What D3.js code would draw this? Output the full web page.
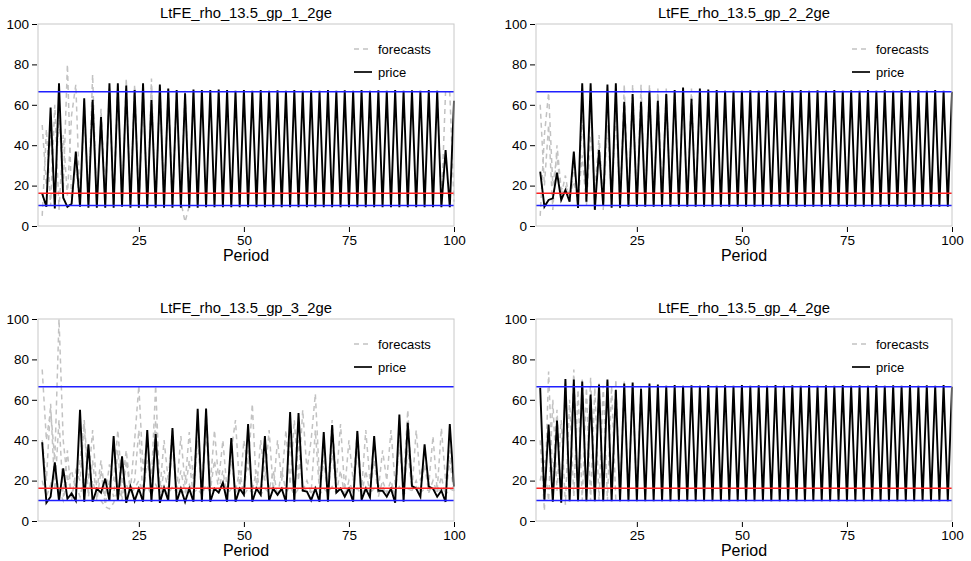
<!DOCTYPE html>
<html>
<head>
<meta charset="utf-8">
<script src="https://cdn.jsdelivr.net/npm/d3@7"></script>
<style>
  body { margin: 0; background: #fff; }
  text { font-family: "Liberation Sans", Arial, Helvetica, sans-serif; }
</style>
</head>
<body>
<div class="chart"></div>
<script>
// ---- data ----
var titles = ["LtFE_rho_13.5_gp_1_2ge", "LtFE_rho_13.5_gp_2_2ge",
              "LtFE_rho_13.5_gp_3_2ge", "LtFE_rho_13.5_gp_4_2ge"];
var xTicks = [25, 50, 75, 100];
var yTicks = [0, 20, 40, 60, 80, 100];
var upperBound = 66.5, lowerBound = 10.2, fundamental = 16.2;

// price, periods 2..100
var price1 = [16, 9.6, 58.7, 8.7, 70.6, 14, 9.5, 11, 36.8, 9.6,
  63.2, 9, 62.5, 9, 54, 9, 70.6, 9, 70.6, 9.5,
  69.5, 9, 67.3, 9, 70.6, 9, 62.4, 9, 70, 9,
  68, 9, 67.3, 9, 65.7, 9, 67.6, 9, 67.3, 9.3,
  67.3, 9.3, 67.5, 9.3, 67.3, 9.3, 67, 9.3, 67.3, 9.3,
  67, 9.3, 67.3, 9.3, 67, 9.3, 67.2, 9.3, 67, 9.3,
  67.3, 9.3, 67, 9.3, 67.2, 9.3, 67, 9.3, 67.3, 9.3,
  67, 9.3, 67.2, 9.3, 67, 9.3, 67.3, 9.3, 67, 9.3,
  67.2, 9.3, 67, 9.3, 67.3, 9.3, 67, 9.3, 67.2, 9.3,
  67, 9.3, 67.3, 9.3, 67, 9.3, 37.6, 9.3, 62];

var price2 = [26.9, 9.6, 12.9, 13.7, 26.4, 12.9, 17.8, 12, 36.8, 8.9,
  70.6, 12, 70.6, 8, 37.6, 10, 70, 9, 70.6, 9,
  61.5, 9.5, 65.3, 9.5, 61.5, 9.5, 67, 9.5, 62, 9.5,
  65.3, 9.5, 67.3, 9.5, 68.6, 9.5, 63, 9.5, 68, 9.5,
  67.6, 9.5, 67.3, 9.5, 67, 9.5, 67, 9.5, 67, 9.5,
  67.2, 9.5, 67, 9.5, 67.3, 9.5, 67, 9.5, 67.2, 9.5,
  67, 9.5, 67.3, 9.5, 67, 9.5, 67.2, 9.5, 67, 9.5,
  67.3, 9.5, 67, 9.5, 67.2, 9.5, 67, 9.5, 67.3, 9.5,
  67, 9.5, 67.2, 9.5, 67, 9.5, 67.3, 9.5, 67, 9.5,
  67.2, 9.5, 67, 9.5, 67.3, 9.5, 67, 9.5, 66.5];

var price3 = [39, 9, 12, 29, 10, 26, 11, 13.6, 10, 55,
  9.5, 38, 9.5, 16, 14, 21, 10, 42, 10, 32,
  9, 17, 10, 16, 9.5, 45, 9.5, 43, 9, 16.5,
  10, 46, 9.5, 16, 9.5, 16, 9.5, 55.5, 9.5, 55.7,
  9.5, 16, 14, 19, 9.5, 41, 9.5, 16, 13, 48,
  9.5, 16, 13, 42, 10, 16, 13, 16, 9.5, 54,
  9.5, 53.5, 15, 14.6, 10.3, 16, 9.5, 44, 9.5, 47.5,
  14, 16, 12, 16, 9.5, 44.5, 10.5, 16, 11.7, 42,
  15, 15, 12, 16, 9, 52.7, 9.5, 48.6, 17.4, 16,
  12, 38, 17, 16, 12, 15, 9.5, 48, 17];

var price4 = [65.9, 10.5, 47.8, 9.5, 49.7, 9, 70.3, 9.8, 70, 9.8,
  69, 9.8, 62.6, 9.8, 67.5, 9.8, 70, 9.8, 65, 9.8,
  68, 9.8, 68.6, 9.8, 65.4, 9.8, 68, 9.8, 67.6, 9.8,
  67, 9.8, 67.3, 9.8, 67, 9.8, 67.2, 9.8, 67, 9.8,
  67.3, 9.8, 67, 9.8, 67.2, 9.8, 67, 9.8, 67.3, 9.8,
  67, 9.8, 67.2, 9.8, 67, 9.8, 67.3, 9.8, 67, 9.8,
  67.2, 9.8, 67, 9.8, 67.3, 9.8, 67, 9.8, 67.2, 9.8,
  67, 9.8, 67.3, 9.8, 67, 9.8, 67.2, 9.8, 67, 9.8,
  67.3, 9.8, 67, 9.8, 67.2, 9.8, 67, 9.8, 67.3, 9.8,
  67, 9.8, 67.2, 9.8, 67, 9.8, 67.3, 9.8, 66.5];

// forecasts (start at period 2 unless noted)
var fc1a = [50, 20, 45, 12, 55, 18, 80, 12, 30, 10,
  62, 12, 75, 10, 55, 12, 68, 10, 70, 10,
  73, 12, 68, 10, 70, 12, 73, 10, 69, 12,
  68, 10, 67, 12, 67, 10, 67];
var fc1b = [5, 48, 10, 60, 8, 45, 15, 55, 70, 10,
  55, 12, 62, 10, 58, 12, 68, 10, 69, 10,
  66, 12, 70, 10, 66, 12, 69, 10, 67, 12,
  66, 10, 66, 12, 2, 10, 66];
var fc1tail = [67, 10, 67, 66, 12]; // periods 96..100

var fc2a = [5, 45, 66, 20, 35, 15, 25, 12, 30, 10,
  55, 15, 60, 10, 45, 12, 66, 10, 68, 8,
  70, 10, 70, 10, 70, 12, 70, 10, 68, 12,
  68, 10, 66, 12, 67, 10, 68, 10, 66];
var fc2b = [60, 20, 50, 8, 40, 18, 20, 15, 22, 12,
  35, 10, 45, 20, 40, 8, 50, 12, 55, 10,
  60, 12, 62, 10, 65, 10, 66, 10, 65, 12,
  66, 10];

var fc3a = [75, 40, 55, 30, 100, 40, 20, 25, 15, 30,
  50, 20, 45, 15, 30, 12, 28, 20, 45, 18,
  35, 15, 40, 67, 25, 40, 20, 67, 15, 40,
  20, 45, 15, 42, 18, 44, 20, 50, 15, 55,
  18, 45, 20, 40, 15, 35, 50, 15, 40, 25,
  58, 15, 40, 20, 45, 15, 40, 20, 45, 18,
  50, 20, 55, 25, 40, 63, 20, 35, 15, 50,
  20, 48, 15, 40, 20, 45, 15, 45, 20, 40,
  15, 35, 20, 45, 18, 40, 20, 55, 15, 45,
  20, 35, 18, 42, 15, 46, 20, 35, 18];
var fc3b = [40, 20, 58, 15, 50, 12, 35, 10, 25, 20,
  48, 12, 30, 10, 25, 8, 20, 12, 35, 10,
  30, 15, 20, 45, 12, 30, 15, 50, 12, 25,
  15, 38, 12, 25, 14, 30, 12, 40, 12, 45,
  15, 30, 15, 25, 12, 30, 15, 25, 12, 35,
  15, 25, 12, 30, 15, 25, 12, 25, 15, 40,
  12, 40, 15, 20, 14, 45, 14, 30, 12, 35,
  14, 25, 12, 20, 14, 35, 12, 25, 14, 30,
  12, 20, 14, 20, 12, 38, 14, 35, 15, 20,
  14, 28, 14, 20, 14, 22, 12, 30, 14];
var fc3c = [20, 12, 18, 25, 15, 10, 22, 14, 18, 12,
  22, 15, 20, 12, 10, 7, 6, 9, 15, 12,
  18, 14, 16, 20, 14, 17, 13, 18, 14, 16,
  13, 17, 14, 16, 13, 18, 14, 16, 13, 18,
  14, 16, 15, 17, 13, 16, 14, 17, 13, 16,
  14, 17, 13, 16, 14, 17, 13, 16, 14, 17,
  13, 16, 15, 16, 14, 17, 13, 16, 14, 17,
  14, 16, 13, 17, 14, 16, 13, 17, 14, 16,
  14, 17, 13, 16, 14, 17, 13, 16, 15, 17,
  14, 16, 15, 17, 14, 16, 13, 16, 15];

var fc4a = [40, 5, 74, 20, 55, 10, 68, 12, 75, 10,
  70, 12, 71, 10, 68, 10, 70, 10, 70, 10,
  69, 10, 68, 10, 68];
var fc4b = [20, 30, 10, 60, 15, 50, 8, 60, 12, 65,
  10, 66, 10, 66, 10, 67, 10, 67, 10];

// ---- layout ----
var widthSVG = 971, heightSVG = 561;
var panelW = 416, panelH = 202;

var panels = [
  {title: titles[0], left: 38, top: 24, price: price1, forecasts: [[2, fc1a], [2, fc1b], [96, fc1tail]]},
  {title: titles[1], left: 536, top: 24, price: price2, forecasts: [[2, fc2a], [2, fc2b]]},
  {title: titles[2], left: 38, top: 319, price: price3, forecasts: [[2, fc3c], [2, fc3b], [2, fc3a]]},
  {title: titles[3], left: 536, top: 319, price: price4, forecasts: [[2, fc4a], [2, fc4b]]}
];

var svg = d3.select(".chart").append("svg")
  .attr("width", widthSVG)
  .attr("height", heightSVG);

var x = d3.scaleLinear().domain([1, 100]).range([0, panelW]);
var y = d3.scaleLinear().domain([0, 100]).range([panelH, 0]);

var line = d3.line().x(d => x(d[0])).y(d => y(d[1]));

panels.forEach(function (p) {
  var g = svg.append("g").attr("transform", `translate(${p.left}, ${p.top})`);

  // forecasts
  p.forecasts.forEach(function (f) {
    var pts = f[1].map((v, i) => [f[0] + i, v]);
    g.append("path")
      .datum(pts)
      .attr("d", line)
      .attr("fill", "none")
      .attr("stroke", "#c2c2c2")
      .attr("stroke-width", 1.5)
      .attr("stroke-dasharray", "5,4");
  });

  // price
  g.append("path")
    .datum(p.price.map((v, i) => [i + 2, v]))
    .attr("d", line)
    .attr("fill", "none")
    .attr("stroke", "#000")
    .attr("stroke-width", 1.9)
    .attr("stroke-linejoin", "miter");

  // reference lines
  [[upperBound, "#1f1fff"], [lowerBound, "#1f1fff"], [fundamental, "#ff1f1f"]].forEach(function (r) {
    g.append("line")
      .attr("x1", 0).attr("x2", panelW)
      .attr("y1", y(r[0])).attr("y2", y(r[0]))
      .attr("stroke", r[1])
      .attr("stroke-width", 1.5);
  });

  // frame
  g.append("rect")
    .attr("width", panelW)
    .attr("height", panelH)
    .attr("fill", "none")
    .attr("stroke", "#c8c8c8");

  // axes
  var leftAxis = d3.axisLeft(y).tickValues(yTicks).tickSize(5).tickPadding(3);
  var bottomAxis = d3.axisBottom(x).tickValues(xTicks).tickSize(5).tickPadding(3);

  var ya = g.append("g").attr("transform", "translate(-1, 0)").call(leftAxis);
  var xa = g.append("g").attr("transform", `translate(0, ${panelH + 1})`).call(bottomAxis);
  [ya, xa].forEach(function (a) {
    a.select(".domain").remove();
    a.selectAll("line").attr("stroke", "#000");
    a.selectAll("text").attr("fill", "#000").attr("font-size", 13.5)
      .attr("font-family", "'Liberation Sans', Arial, sans-serif");
  });

  // title
  g.append("text")
    .attr("x", panelW / 2)
    .attr("y", -6)
    .attr("text-anchor", "middle")
    .attr("font-size", 14.8)
    .text(p.title);

  // x label
  g.append("text")
    .attr("x", panelW / 2)
    .attr("y", panelH + 35)
    .attr("text-anchor", "middle")
    .attr("font-size", 16)
    .text("Period");

  // legend
  var lg = g.append("g").attr("transform", "translate(316, 25)");
  lg.append("line").attr("x1", 0).attr("x2", 18).attr("y1", 0).attr("y2", 0)
    .attr("stroke", "#c2c2c2").attr("stroke-width", 1.5).attr("stroke-dasharray", "5,4");
  lg.append("text").attr("x", 24).attr("y", 0).attr("dy", "0.35em")
    .attr("font-size", 13).text("forecasts");
  lg.append("line").attr("x1", 0).attr("x2", 18).attr("y1", 23).attr("y2", 23)
    .attr("stroke", "#000").attr("stroke-width", 1.7);
  lg.append("text").attr("x", 24).attr("y", 23).attr("dy", "0.35em")
    .attr("font-size", 13).text("price");
});
</script>
</body>
</html>
